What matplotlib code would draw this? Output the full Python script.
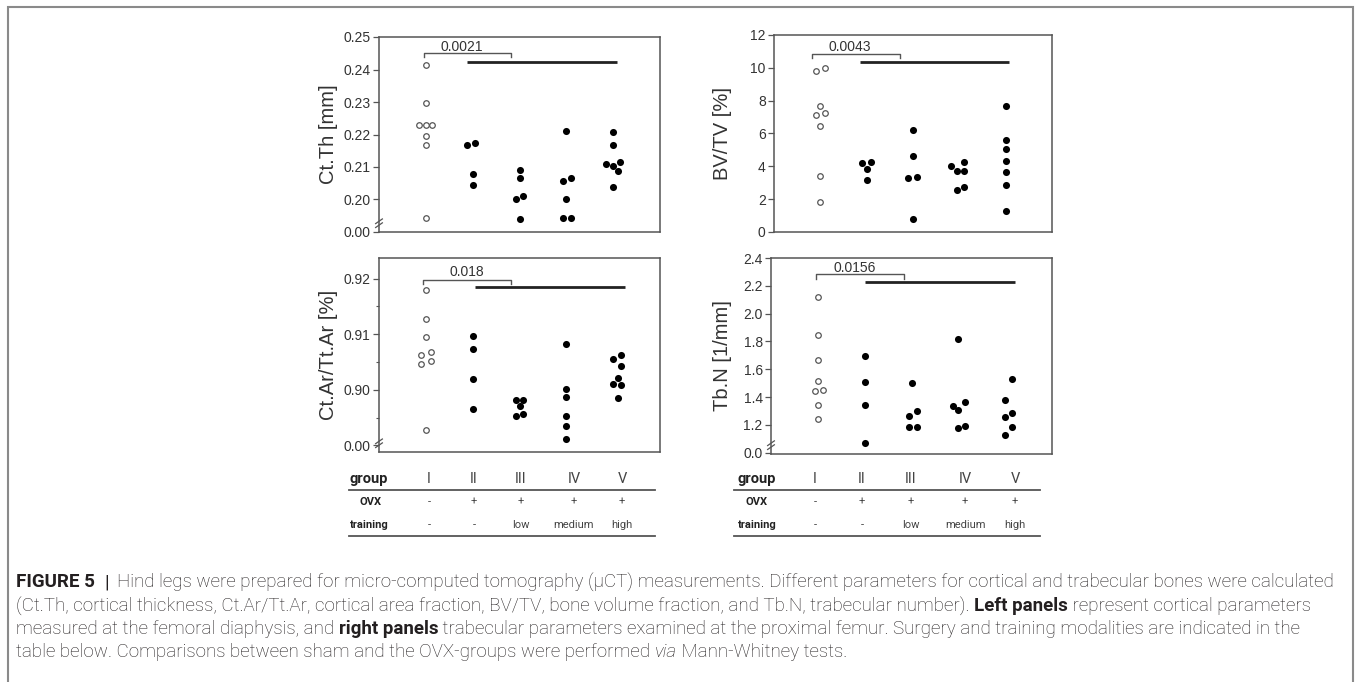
import matplotlib
matplotlib.use("Agg")
import matplotlib.pyplot as plt
from matplotlib.lines import Line2D
from matplotlib.patches import Rectangle

# ---------------- data ----------------
groups = ["I", "II", "III", "IV", "V"]
ovx = ["-", "+", "+", "+", "+"]
training = ["-", "-", "low", "medium", "high"]
pvalues = ["0.0021", "0.0043", "0.018", "0.0156"]

# Ct.Th [mm]
ctth_values = [
    [0.2413, 0.2297, 0.2228, 0.2228, 0.2228, 0.2195, 0.2169, 0.1943],
    [0.2169, 0.2174, 0.2080, 0.2046],
    [0.2090, 0.2067, 0.2000, 0.2011, 0.1941],
    [0.2211, 0.2058, 0.2067, 0.2003, 0.1943, 0.1943],
    [0.2208, 0.2169, 0.2109, 0.2103, 0.2114, 0.2089, 0.2037],
]
ctth_jitter = [
    [0, 0, -0.14, 0, 0.13, 0, 0, 0],
    [-0.12, 0.06, 0, 0],
    [0, 0, -0.08, 0.08, 0],
    [0, -0.07, 0.1, 0, -0.07, 0.1],
    [0, 0, -0.15, 0, 0.14, 0.1, 0],
]

# BV/TV [%]
bvtv_values = [
    [9.82, 9.98, 7.65, 7.14, 7.22, 6.45, 3.39, 1.83],
    [4.22, 4.26, 3.83, 3.16],
    [6.19, 4.62, 3.29, 3.33, 0.77],
    [4.00, 4.26, 3.69, 3.69, 2.54, 2.76],
    [7.65, 5.58, 5.07, 4.30, 3.65, 2.86, 1.30],
]
bvtv_jitter = [
    [-0.1, 0.11, 0, -0.1, 0.11, 0, 0, 0],
    [-0.11, 0.1, 0, 0],
    [0, 0, -0.1, 0.08, 0],
    [-0.17, 0.1, -0.05, 0.1, -0.05, 0.1],
    [0, 0, 0, 0, 0, 0, 0],
]

# Ct.Ar/Tt.Ar [%]
ctar_values = [
    [0.9179, 0.9127, 0.9095, 0.9063, 0.9068, 0.9046, 0.9051, 0.8927],
    [0.9097, 0.9074, 0.9020, 0.8966],
    [0.8981, 0.8982, 0.8970, 0.8953, 0.8956],
    [0.9083, 0.9002, 0.8987, 0.8952, 0.8935, 0.8911],
    [0.9056, 0.9063, 0.9043, 0.9022, 0.9010, 0.9008, 0.8986],
]
ctar_jitter = [
    [0, 0, 0, -0.1, 0.1, -0.1, 0.1, 0],
    [0, 0, 0, 0],
    [-0.08, 0.08, 0, -0.08, 0.08],
    [0, 0, 0, 0, 0, 0],
    [-0.01, 0.17, 0.17, 0.1, -0.01, 0.17, 0.1],
]

# Tb.N [1/mm]
tbn_values = [
    [2.116, 1.846, 1.669, 1.516, 1.444, 1.449, 1.339, 1.241],
    [1.695, 1.509, 1.339, 1.069],
    [1.502, 1.260, 1.296, 1.186, 1.186],
    [1.819, 1.337, 1.306, 1.363, 1.174, 1.193],
    [1.528, 1.382, 1.253, 1.282, 1.186, 1.129],
]
tbn_jitter = [
    [0, 0, 0, 0, -0.07, 0.1, 0, 0],
    [0, 0, 0, 0],
    [0, -0.06, 0.12, -0.06, 0.12],
    [0, -0.12, 0, 0.14, 0, 0.14],
    [0.15, 0, 0, 0.15, 0.15, 0],
]

# ---------------- layout helpers ----------------
W, H = 1356, 682
fig = plt.figure(figsize=(W / 100, H / 100), dpi=100)
fig.patch.set_facecolor("white")

AX_FONT = "Liberation Sans"
TXT = "#333333"
SPINE = "#555555"


def fx(px):
    return px / W


def fy(py):
    return 1 - py / H


def make_axes(l, t, r, b):
    return fig.add_axes([fx(l), fy(b), (r - l) / W, (b - t) / H])


def panel(ax, values, jitter, ylim, ticks, ticklabels, ylabel, label_x, minor=None, brk=False):
    for g, (vals, jit) in enumerate(zip(values, jitter), start=1):
        xs = [g + j for j in jit]
        if g == 1:
            ax.scatter(xs, vals, s=16, facecolors="white", edgecolors="#555555",
                       linewidths=0.9, zorder=3)
        else:
            ax.scatter(xs, vals, s=26, color="black", linewidths=0, zorder=3)
    ax.set_xlim(0, 6)
    ax.set_ylim(*ylim)
    ax.set_xticks([])
    ax.set_yticks(ticks)
    ax.set_yticklabels(ticklabels, fontsize=10, family=AX_FONT, color=TXT)
    if minor is not None:
        ax.set_yticks(minor, minor=True)
        ax.tick_params(axis="y", which="minor", length=2.5, width=0.8, color=SPINE)
    ax.tick_params(axis="y", which="major", length=4, width=0.9, color=SPINE, pad=2)
    for s in ax.spines.values():
        s.set_color(SPINE)
        s.set_linewidth(1.1)
    ax.set_ylabel(ylabel, fontsize=14.5, family=AX_FONT, color=TXT)
    ax.yaxis.set_label_coords(label_x, 0.5)
    if brk:
        for dy in (0.035, 0.055):
            ax.plot([-0.012, 0.012], [dy - 0.012, dy + 0.012], transform=ax.transAxes,
                    color=SPINE, lw=0.9, clip_on=False, zorder=5)


def annotate(ax, ptext, bx0, bx1, btop, bbot, tx, ty, lx0, lx1, ly):
    ax.plot([bx0, bx0, bx1, bx1], [bbot, btop, btop, bbot], color="#555555", lw=1.0,
            clip_on=False)
    ax.text(tx, ty, ptext, ha="center", va="center", fontsize=10, family=AX_FONT,
            color=TXT)
    ax.plot([lx0, lx1], [ly, ly], color="#222222", lw=2.0, solid_capstyle="butt")


# ---------------- panels ----------------
ax1 = make_axes(379, 37, 660, 232)
panel(ax1, ctth_values, ctth_jitter, (0.19, 0.25),
      [0.19, 0.20, 0.21, 0.22, 0.23, 0.24, 0.25],
      ["0.00", "0.20", "0.21", "0.22", "0.23", "0.24", "0.25"],
      "Ct.Th [mm]", -0.145, brk=True)
annotate(ax1, pvalues[0], 0.97, 2.82, 0.2452, 0.2439, 1.76, 0.2470, 1.88, 5.08, 0.2423)

ax2 = make_axes(774, 35, 1052, 232)
panel(ax2, bvtv_values, bvtv_jitter, (0, 12),
      [0, 2, 4, 6, 8, 10, 12], ["0", "2", "4", "6", "8", "10", "12"],
      "BV/TV [%]", -0.15)
annotate(ax2, pvalues[1], 0.81, 2.72, 10.85, 10.59, 1.63, 11.27, 1.86, 5.08, 10.34)

ax3 = make_axes(379, 258, 660, 452)
panel(ax3, ctar_values, ctar_jitter, (0.8888, 0.9237),
      [0.89, 0.90, 0.91, 0.92], ["0.00", "0.90", "0.91", "0.92"],
      "Ct.Ar/Tt.Ar [%]", -0.145, minor=[0.895, 0.905, 0.915], brk=True)
annotate(ax3, pvalues[2], 0.94, 2.82, 0.9198, 0.9191, 1.88, 0.9212, 2.05, 5.25, 0.9184)

ax4 = make_axes(771, 258, 1052, 454)
panel(ax4, tbn_values, tbn_jitter, (0.99, 2.4),
      [1.0, 1.2, 1.4, 1.6, 1.8, 2.0, 2.2, 2.4],
      ["0.0", "1.2", "1.4", "1.6", "1.8", "2.0", "2.2", "2.4"],
      "Tb.N [1/mm]", -0.14, brk=True)
annotate(ax4, pvalues[3], 0.96, 2.83, 2.288, 2.252, 1.78, 2.330, 2.0, 5.2, 2.226)

# ---------------- tables ----------------
TAB_FONT = "Roboto"


def table(x_label, col_xs, line_x0, line_x1, ovx_x):
    fig.text(fx(x_label), fy(479), "group", fontsize=10.5, fontweight="bold",
             family=TAB_FONT, color="#222222", ha="left", va="center")
    fig.text(fx(ovx_x), fy(502), "OVX", fontsize=8, fontweight="bold",
             family=TAB_FONT, color="#222222", ha="center", va="center")
    fig.text(fx(x_label), fy(525), "training", fontsize=8, fontweight="bold",
             family=TAB_FONT, color="#222222", ha="left", va="center")
    for x, g, o, t in zip(col_xs, groups, ovx, training):
        fig.text(fx(x), fy(479), g, fontsize=10.5, family=TAB_FONT, color="#444444",
                 ha="center", va="center")
        fig.text(fx(x), fy(502), o, fontsize=8, family=TAB_FONT, color="#444444",
                 ha="center", va="center")
        fig.text(fx(x), fy(525), t, fontsize=8, family=TAB_FONT, color="#444444",
                 ha="center", va="center")
    for yy in (490, 536):
        fig.add_artist(Line2D([fx(line_x0), fx(line_x1)], [fy(yy), fy(yy)],
                              color="#555555", lw=1.3))


table(350, [429, 474, 521, 574, 622], 349, 655, 371)
table(738, [815, 862, 911, 965, 1015], 734, 1040, 757)

# ---------------- caption ----------------
CAP_FONT = "Roboto"
renderer = fig.canvas.get_renderer()


def text_width(s, size, weight="normal", style="normal"):
    t = fig.text(0, 0, "|" + s + "|", fontsize=size, family=CAP_FONT,
                 fontweight=weight, fontstyle=style)
    t2 = fig.text(0, 0, "||", fontsize=size, family=CAP_FONT,
                  fontweight=weight, fontstyle=style)
    w = t.get_window_extent(renderer).width - t2.get_window_extent(renderer).width
    t.remove()
    t2.remove()
    return w


caption_lines = [
    [("FIGURE 5", "bold"), ("  ", "light"), ("|", "normal"),
     ("  Hind legs were prepared for micro-computed tomography (\u00b5CT) "
      "measurements. Different parameters for cortical and trabecular bones were calculated", "light")],
    [("(Ct.Th, cortical thickness, Ct.Ar/Tt.Ar, cortical area fraction, BV/TV, bone volume fraction, "
      "and Tb.N, trabecular number). ", "light"), ("Left panels", "bold"),
     (" represent cortical parameters", "light")],
    [("measured at the femoral diaphysis, and ", "light"), ("right panels", "bold"),
     (" trabecular parameters examined at the proximal femur. Surgery and training modalities "
      "are indicated in the", "light")],
    [("table below. Comparisons between sham and the OVX-groups were performed ", "light"),
     ("via", "italic"), (" Mann-Whitney tests.", "light")],
]


def seg_props(kind):
    if kind == "bold":
        return "bold", "normal"
    if kind == "italic":
        return "light", "italic"
    return kind, "normal"


# fit caption size so that the first line spans the caption width
base = 10
w0 = sum(text_width(s, base, *seg_props(k)) for s, k in caption_lines[0])
cap_size = base * (1336 - 16) / w0

cap_ys = [582, 606, 629, 652]
for line, yy in zip(caption_lines, cap_ys):
    x = 16
    for s, kind in line:
        weight, style = seg_props(kind)
        fig.text(fx(x), fy(yy), s, fontsize=cap_size, family=CAP_FONT, fontweight=weight,
                 fontstyle=style, color="#231f20", ha="left", va="center")
        x += text_width(s, cap_size, weight, style)

# ---------------- frame ----------------
fig.add_artist(Rectangle((fx(8), fy(700)), (1353 - 8) / W, (700 - 7) / H,
                         transform=fig.transFigure, fill=False, ec="#8a8a8a", lw=1.5))

fig.savefig("out.png", dpi=100, facecolor="white")
